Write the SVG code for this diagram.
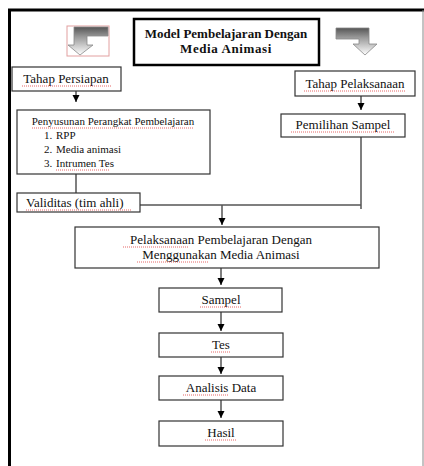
<svg xmlns="http://www.w3.org/2000/svg" width="424" height="466" viewBox="0 0 424 466">
<style>
.box{fill:#fff;stroke:#333;stroke-width:1.2}
.t{font-family:"Liberation Serif","Times New Roman",serif;font-size:13px;fill:#111}
.s{font-size:11px}
.c{text-anchor:middle}
.ln{stroke:#555;stroke-width:1.5;fill:none}
.sq{stroke:#d33;stroke-width:1;stroke-dasharray:1 1;opacity:0.75;fill:none}
</style>
<defs>
<marker id="ah" markerWidth="8" markerHeight="8" refX="7" refY="4" orient="auto" markerUnits="userSpaceOnUse">
<path d="M0,0.5 L7,4 L0,7.5 z" fill="#000"/>
</marker>
<linearGradient id="g1" x1="0" y1="0" x2="0" y2="1">
<stop offset="0" stop-color="#555"/>
<stop offset="0.35" stop-color="#999"/>
<stop offset="1" stop-color="#fff"/>
</linearGradient>
</defs>
<rect width="424" height="466" fill="#fff"/>
<g id="frame">
<line x1="9.5" y1="10" x2="9.5" y2="466" stroke="#000" stroke-width="3"/>
<line x1="8" y1="10" x2="424" y2="10" stroke="#000" stroke-width="3"/>
<line x1="423" y1="10" x2="423" y2="466" stroke="#888" stroke-width="1"/>
</g>
<g id="arrow-left">
<rect x="67" y="26" width="42" height="30" fill="none" stroke="#e2a0a0" stroke-width="1"/>
<path d="M74,27 L108,27 L108,36 L87,36 L87,45 L93,45 L80,55 L68,45 L74,45 Z" fill="url(#g1)" stroke="#888" stroke-width="0.8"/>
</g>
<g id="arrow-right">
<path d="M336,28 L369,28 L369,44 L377,44 L365,55 L353,44 L359,44 L359,39 L336,39 Z" fill="url(#g1)" stroke="#888" stroke-width="0.8"/>
</g>
<g id="title">
<rect x="134" y="19" width="185" height="46" fill="#fff" stroke="#000" stroke-width="2.5"/>
<text class="t c" x="226" y="38" font-weight="bold">Model Pembelajaran Dengan</text>
<text class="t c" x="226" y="53" font-weight="bold" letter-spacing="0.6">Media Animasi</text>
</g>
<g id="connectors">
<line class="ln" x1="76" y1="91" x2="76" y2="102" marker-end="url(#ah)"/>
<line class="ln" x1="76" y1="174" x2="76" y2="193"/>
<line class="ln" x1="361" y1="96" x2="361" y2="110" marker-end="url(#ah)"/>
<line class="ln" x1="361" y1="137" x2="361" y2="209"/>
<line class="ln" x1="140" y1="205" x2="361" y2="205"/>
<line class="ln" x1="222" y1="205" x2="222" y2="225" marker-end="url(#ah)"/>
<line class="ln" x1="221" y1="268" x2="221" y2="285" marker-end="url(#ah)"/>
<line class="ln" x1="221" y1="312" x2="221" y2="331" marker-end="url(#ah)"/>
<line class="ln" x1="221" y1="357" x2="221" y2="374" marker-end="url(#ah)"/>
<line class="ln" x1="221" y1="400" x2="221" y2="418" marker-end="url(#ah)"/>
</g>
<g id="tahap-persiapan">
<rect class="box" x="12" y="67" width="109" height="24"/>
<text class="t c" x="66" y="83">Tahap Persiapan</text>
<path class="sq" d="M22,86 H112"/>
</g>
<g id="penyusunan">
<rect class="box" x="17" y="110" width="193" height="64"/>
<text class="t s c" x="113" y="125">Penyusunan Perangkat Pembelajaran</text>
<text class="t s" x="44" y="139">1.</text><text class="t s" x="56" y="139">RPP</text>
<text class="t s" x="44" y="153">2.</text><text class="t s" x="56" y="153">Media animasi</text>
<text class="t s" x="44" y="167">3.</text><text class="t s" x="56" y="167">Intrumen Tes</text>
<path class="sq" d="M32,128 H194 M56,170 H109"/>
</g>
<g id="validitas">
<rect class="box" x="17" y="193" width="123" height="19"/>
<text class="t" x="26" y="207">Validitas (tim ahli)</text>
<path class="sq" d="M26,210 H131"/>
</g>
<g id="tahap-pelaksanaan">
<rect class="box" x="295" y="71" width="120" height="25"/>
<text class="t c" x="355" y="88">Tahap Pelaksanaan</text>
<path class="sq" d="M304,91 H406"/>
</g>
<g id="pemilihan">
<rect class="box" x="281" y="114" width="124" height="23"/>
<text class="t c" x="343" y="129">Pemilihan Sampel</text>
<path class="sq" d="M291,132 H395"/>
</g>
<g id="pelaksanaan">
<rect class="box" x="75" y="227" width="304" height="41"/>
<text class="t c" x="221" y="244">Pelaksanaan Pembelajaran Dengan</text>
<text class="t c" x="221" y="259">Menggunakan Media Animasi</text>
<path class="sq" d="M123,247 H188 M137,262 H208"/>
</g>
<g id="sampel">
<rect class="box" x="159" y="288" width="123" height="24"/>
<text class="t c" x="221" y="304">Sampel</text>
<path class="sq" d="M200,307 H242"/>
</g>
<g id="tes">
<rect class="box" x="159" y="333" width="124" height="24"/>
<text class="t c" x="221" y="349">Tes</text>
<path class="sq" d="M211,352 H231"/>
</g>
<g id="analisis">
<rect class="box" x="159" y="376" width="124" height="24"/>
<text class="t c" x="221" y="392">Analisis Data</text>
<path class="sq" d="M183,395 H229"/>
</g>
<g id="hasil">
<rect class="box" x="159" y="421" width="124" height="25"/>
<text class="t c" x="221" y="437">Hasil</text>
<path class="sq" d="M205,440 H237"/>
</g>
</svg>
